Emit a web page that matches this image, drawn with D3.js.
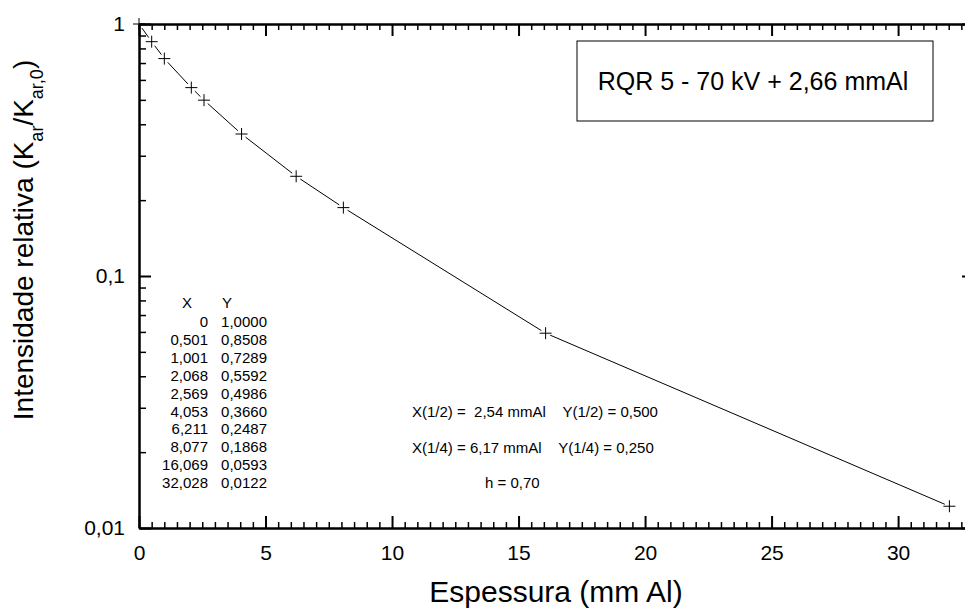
<!DOCTYPE html>
<html>
<head>
<meta charset="utf-8">
<script src="https://d3js.org/d3.v7.min.js"></script>
<style>
  body { margin: 0; background: #fff; }
  svg text { font-family: "Liberation Sans", Arial, sans-serif; fill: #000; }
</style>
</head>
<body>
<div id="chart"></div>
<script>
// measured points: thickness (mm Al) and relative intensity
const thickness = [0, 0.501, 1.001, 2.068, 2.569, 4.053, 6.211, 8.077, 16.069, 32.028];
const intensity = [1.0000, 0.8508, 0.7289, 0.5592, 0.4986, 0.3660, 0.2487, 0.1868, 0.0593, 0.0122];

// the little table printed inside the plot
const tableX = ["0", "0,501", "1,001", "2,068", "2,569", "4,053", "6,211", "8,077", "16,069", "32,028"];
const tableY = ["1,0000", "0,8508", "0,7289", "0,5592", "0,4986", "0,3660", "0,2487", "0,1868", "0,0593", "0,0122"];

const xMajor = [0, 5, 10, 15, 20, 25, 30];
const yMajor = [1, 0.1, 0.01];
const yLabels = ["1", "0,1", "0,01"];

const notes = [
  "X(1/2) =\u00a0 2,54 mmAl \u00a0\u00a0\u00a0Y(1/2) = 0,500",
  "X(1/4) = 6,17 mmAl \u00a0\u00a0\u00a0Y(1/4) = 0,250"
];
const hNote = "h = 0,70";
const boxTitle = "RQR 5 - 70 kV + 2,66 mmAl";

const W = 965, H = 608;
const margin = { top: 24, left: 139 };
const width = 835, height = 504;

const svg = d3.select("#chart").append("svg")
  .attr("width", W).attr("height", H);
const g = svg.append("g").attr("transform", `translate(${margin.left},${margin.top})`);

const x = d3.scaleLinear().domain([0, 33]).range([0, width]);
const y = d3.scaleLog().domain([0.01, 1]).range([height, 0]);

// minor tick values
const xMinor = d3.range(0, 33.01, 0.5).filter(v => v % 5 !== 0);
const yMinor = [];
[0.01, 0.1].forEach(d => { for (let k = 2; k <= 9; k++) yMinor.push(d * k); });

function styleAxis(sel, w) {
  sel.selectAll("path").attr("stroke", "#000").attr("stroke-width", 2);
  sel.selectAll("line").attr("stroke", "#000").attr("stroke-width", w);
}

// bottom
g.append("g").attr("transform", `translate(0,${height})`)
  .call(d3.axisBottom(x).tickValues(xMinor).tickSize(-6).tickSizeOuter(0).tickFormat(""))
  .call(s => styleAxis(s, 1.5));
g.append("g").attr("transform", `translate(0,${height})`)
  .call(d3.axisBottom(x).tickValues(xMajor).tickSize(-12).tickSizeOuter(0).tickPadding(17))
  .call(s => styleAxis(s, 2))
  .selectAll("text").style("font-size", "21px");

// top
g.append("g")
  .call(d3.axisTop(x).tickValues(xMinor).tickSize(-6).tickSizeOuter(0).tickFormat(""))
  .call(s => styleAxis(s, 1.5));
g.append("g")
  .call(d3.axisTop(x).tickValues(xMajor).tickSize(-12).tickSizeOuter(0).tickFormat(""))
  .call(s => styleAxis(s, 2));

// left
g.append("g")
  .call(d3.axisLeft(y).tickValues(yMinor).tickSize(-7).tickSizeOuter(0).tickFormat(""))
  .call(s => styleAxis(s, 1.5));
g.append("g")
  .call(d3.axisLeft(y).tickValues(yMajor).tickSize(-12).tickSizeOuter(0)
    .tickPadding(14).tickFormat((d, i) => yLabels[i]))
  .call(s => styleAxis(s, 2))
  .selectAll("text").style("font-size", "21px");

// right
g.append("g").attr("transform", `translate(${width},0)`)
  .call(d3.axisRight(y).tickValues(yMinor).tickSize(-7).tickSizeOuter(0).tickFormat(""))
  .call(s => styleAxis(s, 1.5));
g.append("g").attr("transform", `translate(${width},0)`)
  .call(d3.axisRight(y).tickValues(yMajor).tickSize(-12).tickSizeOuter(0).tickFormat(""))
  .call(s => styleAxis(s, 2));

g.selectAll(".domain").attr("fill", "none");

// connecting line, broken a little around each symbol
const pts = thickness.map((t, i) => [x(t), y(intensity[i])]);
const gap = 5;
const segs = [];
for (let i = 0; i < pts.length - 1; i++) {
  const [x0, y0] = pts[i], [x1, y1] = pts[i + 1];
  const len = Math.hypot(x1 - x0, y1 - y0);
  const ux = (x1 - x0) / len, uy = (y1 - y0) / len;
  segs.push([[x0 + ux * gap, y0 + uy * gap], [x1 - ux * gap, y1 - uy * gap]]);
}
g.append("g").selectAll("line").data(segs).enter().append("line")
  .attr("x1", d => d[0][0]).attr("y1", d => d[0][1])
  .attr("x2", d => d[1][0]).attr("y2", d => d[1][1])
  .attr("stroke", "#000").attr("stroke-width", 1);

// "+" symbols
g.append("g").selectAll("path").data(thickness).enter().append("path")
  .attr("transform", (d, i) => `translate(${x(d)},${y(intensity[i])})`)
  .attr("d", "M-6,0H6M0,-6V6")
  .attr("stroke", "#000").attr("stroke-width", 1).attr("fill", "none");

// title box
g.append("rect").attr("x", 438).attr("y", 17).attr("width", 356).attr("height", 80)
  .attr("fill", "#fff").attr("stroke", "#000").attr("stroke-width", 1);
g.append("text").attr("x", 614).attr("y", 66).attr("text-anchor", "middle")
  .style("font-size", "25px").text(boxTitle);

// data table
const tbl = g.append("g").style("font-size", "15px");
tbl.append("text").attr("x", 48).attr("y", 284).attr("text-anchor", "middle").text("X");
tbl.append("text").attr("x", 88).attr("y", 284).attr("text-anchor", "middle").text("Y");
tbl.selectAll(".tx").data(tableX).enter().append("text")
  .attr("x", 69).attr("y", (d, i) => 303 + i * 17.9).attr("text-anchor", "end").text(d => d);
tbl.selectAll(".ty").data(tableY).enter().append("text")
  .attr("x", 128).attr("y", (d, i) => 303 + i * 17.9).attr("text-anchor", "end").text(d => d);

// half-value layer notes
const nt = g.append("g").style("font-size", "15px");
nt.selectAll(".n").data(notes).enter().append("text")
  .attr("x", 273).attr("y", (d, i) => 393 + i * 35.5).text(d => d);
nt.append("text").attr("x", 346).attr("y", 464).text(hNote);

// axis titles
svg.append("text").attr("x", 556).attr("y", 602).attr("text-anchor", "middle")
  .style("font-size", "30px").text("Espessura (mm Al)");

const yt = svg.append("text").attr("transform", "translate(33,240) rotate(-90)")
  .attr("text-anchor", "middle").style("font-size", "28px");
yt.append("tspan").text("Intensidade relativa (K");
yt.append("tspan").attr("baseline-shift", "sub").style("font-size", "18px").text("ar");
yt.append("tspan").text("/K");
yt.append("tspan").attr("baseline-shift", "sub").style("font-size", "18px").text("ar,0");
yt.append("tspan").text(")");
</script>
</body>
</html>
